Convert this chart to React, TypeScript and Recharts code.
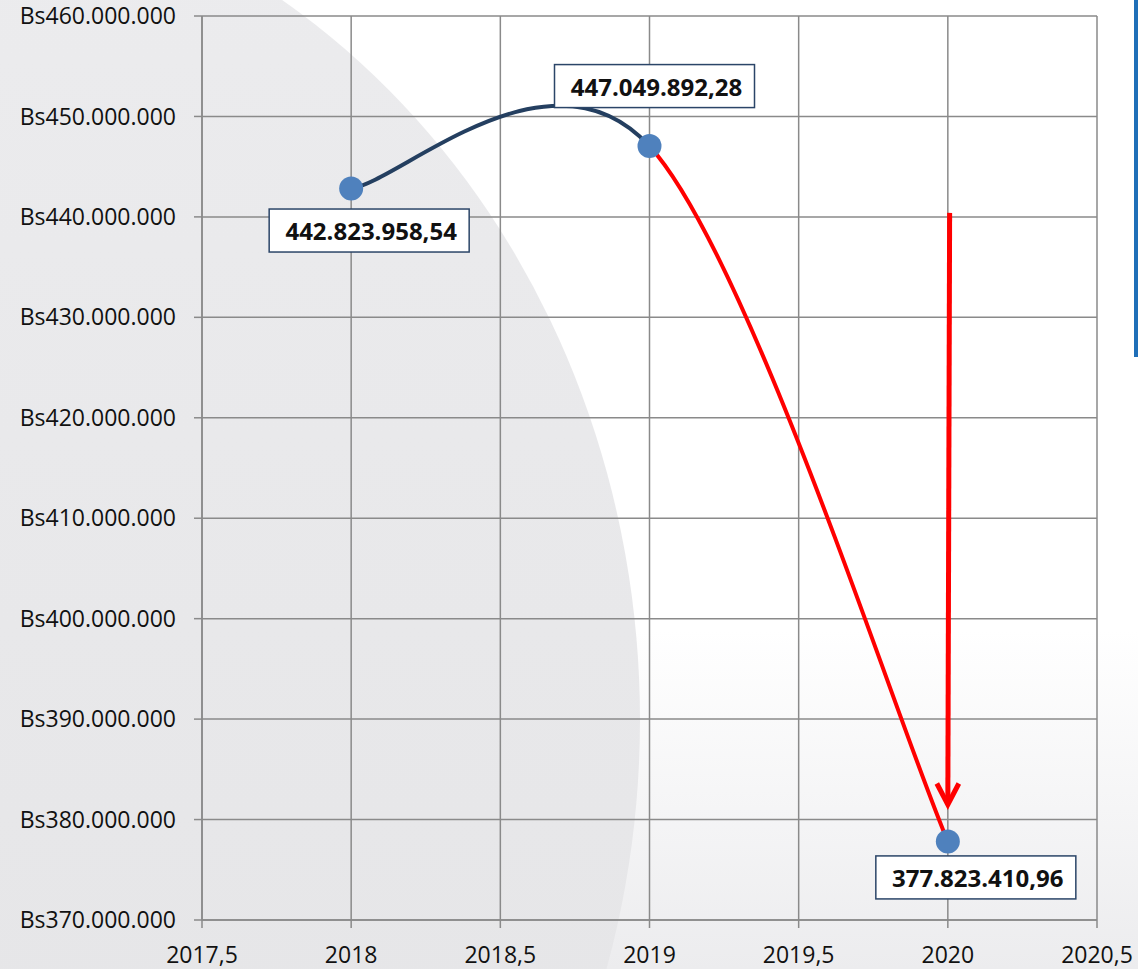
import { LineChart, Line, XAxis, YAxis, CartesianGrid, LabelList, ReferenceLine } from "recharts";

// values
const years = [2018, 2019, 2020];
const totals = [442823958.54, 447049892.28, 377823410.96];
const xTicks = [2017.5, 2018, 2018.5, 2019, 2019.5, 2020, 2020.5];
const yTicks = [370000000, 380000000, 390000000, 400000000, 410000000, 420000000, 430000000, 440000000, 450000000, 460000000];
const arrowFrom = { x: 2020.006, y: 440400000 };
const arrowTo = { x: 2020, y: 381500000 };

const data = years.map((year, i) => ({ year, total: totals[i] }));

// where each value box sits relative to its point
const labelOffsets = [
  { dx: 18, dy: 42 },
  { dx: 5, dy: -60 },
  { dx: 28, dy: 36 },
];

const FONT = "'Open Sans', sans-serif";
const NAVY = "#243f60";
const RED = "#ff0000";
const GRID = "#8a8a8a";

const group = (s: string) => s.replace(/\B(?=(\d{3})+(?!\d))/g, ".");
const fmtBs = (v: number) => "Bs" + group(String(Math.round(v)));
const fmtYear = (v: number) => String(v).replace(".", ",");
const fmtValue = (v: number) => {
  const [int, dec] = v.toFixed(2).split(".");
  return group(int) + "," + dec;
};

// spreadsheet-style smoothed line (catmull-rom through the points)
const smoothCurve = (context: any) => {
  let pts: number[][] = [];
  return {
    areaStart() {},
    areaEnd() {},
    lineStart() { pts = []; },
    point(x: number, y: number) { pts.push([+x, +y]); },
    lineEnd() {
      const n = pts.length;
      if (!n) return;
      context.moveTo(pts[0][0], pts[0][1]);
      for (let i = 0; i < n - 1; i++) {
        const p0 = pts[Math.max(i - 1, 0)];
        const p1 = pts[i];
        const p2 = pts[i + 1];
        const p3 = pts[Math.min(i + 2, n - 1)];
        context.bezierCurveTo(
          p1[0] + (p2[0] - p0[0]) / 6, p1[1] + (p2[1] - p0[1]) / 6,
          p2[0] - (p3[0] - p1[0]) / 6, p2[1] - (p3[1] - p1[1]) / 6,
          p2[0], p2[1]
        );
      }
    },
  };
};

function ValueBox(props: any) {
  const { x, y, index, value } = props;
  const off = labelOffsets[index] || { dx: 0, dy: 0 };
  const cx = x + off.dx;
  const cy = y + off.dy;
  return (
    <g>
      <rect x={cx - 100} y={cy - 21.5} width={200} height={43} fill="#fff" stroke="#2b4568" strokeWidth={1.5} />
      <text x={cx + 2} y={cy} textAnchor="middle" dominantBaseline="central"
        fontFamily={FONT} fontWeight={700} fontSize={24} fill="#111">
        {fmtValue(value)}
      </text>
    </g>
  );
}

function Arrow(props: any) {
  const { x1, y1, x2, y2 } = props;
  const [sx, sy, tx, ty] = y2 > y1 ? [x1, y1, x2, y2] : [x2, y2, x1, y1];
  return (
    <g>
      <line x1={sx} y1={sy} x2={tx} y2={ty - 2} stroke={RED} strokeWidth={5} />
      <polyline points={`${tx - 11},${ty - 21} ${tx},${ty} ${tx + 11},${ty - 21}`}
        fill="none" stroke={RED} strokeWidth={5} strokeLinejoin="miter" />
    </g>
  );
}

export default function App() {
  return (
    <div style={{ position: "absolute", left: 0, top: 0, width: 1138, height: 969, overflow: "hidden", fontFamily: FONT, background: "#fff" }}>
      <svg width={1138} height={969} style={{ position: "absolute", left: 0, top: 0 }}>
        <defs>
          <linearGradient id="bgFade" x1="0" y1="0" x2="0" y2="1">
            <stop offset="0%" stopColor="#ffffff" />
            <stop offset="65%" stopColor="#ffffff" />
            <stop offset="100%" stopColor="#ececee" />
          </linearGradient>
          <linearGradient id="greyFade" x1="0" y1="0" x2="0" y2="1">
            <stop offset="0%" stopColor="#ececee" />
            <stop offset="100%" stopColor="#e3e3e5" />
          </linearGradient>
        </defs>
        <rect x={0} y={0} width={1138} height={969} fill="url(#bgFade)" />
        <ellipse cx={-124} cy={720} rx={764} ry={850} fill="url(#greyFade)" />
        <rect x={1134} y={0} width={4} height={357} fill="#1f6fb8" />
      </svg>
      <div style={{ position: "absolute", left: 0, top: 0 }}>
        <LineChart width={1138} height={969} data={data}
          margin={{ top: 16, right: 41, bottom: 0, left: 0 }}
          style={{ fontFamily: FONT }}>
          <defs>
            <linearGradient id="segStroke" x1="0" y1="0" x2="1" y2="0">
              <stop offset="50%" stopColor={NAVY} />
              <stop offset="50%" stopColor={RED} />
            </linearGradient>
          </defs>
          <CartesianGrid stroke={GRID} strokeWidth={1.5} horizontalValues={yTicks} verticalValues={xTicks} />
          <XAxis dataKey="year" type="number" domain={[2017.5, 2020.5]} ticks={xTicks} height={49}
            tickFormatter={fmtYear} tickSize={8} tickMargin={19} interval={0}
            axisLine={{ stroke: GRID, strokeWidth: 1.5 }} tickLine={{ stroke: GRID, strokeWidth: 1.5 }}
            tick={{ fill: "#111", fontSize: 23, fontFamily: FONT }} />
          <YAxis type="number" domain={[370000000, 460000000]} ticks={yTicks} width={202}
            tickFormatter={fmtBs} tickSize={8} tickMargin={18} interval={0}
            axisLine={{ stroke: GRID, strokeWidth: 1.5 }} tickLine={{ stroke: GRID, strokeWidth: 1.5 }}
            tick={{ fill: "#111", fontSize: 23, fontFamily: FONT }} />
          <ReferenceLine segment={[arrowFrom, arrowTo]} shape={Arrow} ifOverflow="visible" />
          <Line type={smoothCurve as any} dataKey="total" stroke="url(#segStroke)" strokeWidth={4}
            dot={{ r: 12, fill: "#4f81bd", stroke: "none" }} activeDot={false}
            isAnimationActive={false}>
            <LabelList dataKey="total" content={ValueBox} />
          </Line>
        </LineChart>
      </div>
    </div>
  );
}
